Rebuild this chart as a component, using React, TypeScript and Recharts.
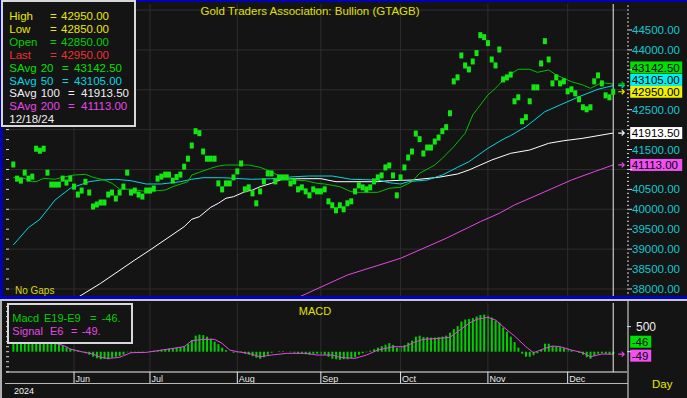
import { Bar, ComposedChart, Line, ReferenceDot, ReferenceLine, Scatter, XAxis, YAxis } from "recharts";

const FONT = "'Liberation Sans', Arial, sans-serif";
const BG = "#141414";
const GRID = "#2e2e2e";

// daily closes, one per trading day (index 0 = first bar on screen)
const closes = [
  41125, 40770, 40720, 40920, 40770, 40820, 41520, 41470, 41520, 40920,
  40620, 40620, 40620, 40770, 40670, 40770, 40570, 40370, 40470, 40690,
  40420, 40070, 40120, 40170, 40170, 40370, 40420, 40270, 40420, 40570,
  40920, 40420, 40470, 40370, 40320, 40470, 40470, 40520, 40770, 40820,
  40870, 40870, 40720, 40810, 40870, 41070, 41270, 41600, 41960, 41910,
  41450, 41270, 41270, 41270, 40650, 40500, 40650, 40650, 40800, 40950,
  41150, 40500, 40550, 40400, 40150, 40450, 40700, 40900, 40900, 40700,
  40800, 40800, 40800, 40650, 40700, 40500, 40550, 40450, 40350, 40500,
  40450, 40450, 40500, 40200, 40100, 39975, 40100, 40000, 40150, 40200,
  40450, 40600, 40550, 40500, 40550, 40700, 40800, 40850, 41050, 41100,
  40850, 40350, 40800, 41050, 41300, 41450, 41900, 41760, 41400, 41550,
  41550, 41700, 41800, 41960, 42060, 42410, 43210, 43310, 43860, 43610,
  43510, 43710, 43920, 44370, 44320, 44170, 43760, 43610, 44010, 43260,
  43310, 43380, 42710, 42810, 42210, 42310, 42710, 43060, 43060, 43660,
  44220, 43760, 43160, 43310, 43160, 43210, 42960, 43010, 42910, 42760,
  42560, 42510, 42560, 43210, 43360, 43160, 42860, 42810, 42950,
];
const lastIndex = closes.length - 1;

const monthStarts = [16, 36, 59, 81, 102, 125, 146];
const monthNames = ["Jun", "Jul", "Aug", "Sep", "Oct", "Nov", "Dec"];

// moving averages read at sample days
const sma20Days = [0, 3, 5, 6, 8, 11, 13, 16, 19, 21, 24, 26, 28, 31, 34, 37, 40, 42, 46, 47, 49, 52, 54, 56, 62, 65, 68, 70, 74, 77, 80, 82, 86, 89, 91, 96, 99, 102, 105, 107, 111, 113, 116, 119, 121, 125, 127, 129, 131, 133, 136, 138, 141, 143, 147, 150, 152, 155, 158];
const sma20Values = [40803, 40778, 40692, 40692, 40778, 40753, 40803, 40860, 40878, 40803, 40735, 40652, 40509, 40502, 40459, 40459, 40484, 40567, 40692, 40860, 40928, 41029, 41086, 41111, 41111, 41054, 40943, 40835, 40735, 40717, 40652, 40635, 40567, 40441, 40426, 40426, 40527, 40552, 40692, 40903, 41111, 41280, 41571, 41907, 42367, 42869, 43037, 43245, 43396, 43514, 43514, 43438, 43496, 43371, 43202, 43120, 43037, 43177, 43142.5];

const sma50Days = [0, 4, 7, 11, 15, 20, 23, 27, 31, 35, 39, 44, 47, 50, 55, 60, 63, 68, 74, 78, 84, 89, 96, 99, 102, 104, 109, 113, 117, 120, 125, 129, 131, 135, 140, 144, 149, 154, 158];
const sma50Values = [39104, 39540, 39749, 40233, 40527, 40692, 40735, 40753, 40717, 40635, 40635, 40692, 40753, 40793, 40793, 40768, 40753, 40768, 40818, 40835, 40835, 40753, 40735, 40667, 40635, 40692, 40735, 40860, 41054, 41194, 41531, 41757, 41850, 42073, 42449, 42618, 42826, 43012, 43105];

const sma100Days = [14, 18, 23, 32, 36, 45, 47, 49, 52, 54, 56, 58, 61, 63, 65, 68, 71, 76, 81, 85, 96, 99, 105, 112, 117, 120, 126, 131, 136, 141, 145, 150, 158];
const sma100Values = [37610, 37849, 38142, 38727, 38978, 39563, 39749, 39814, 40050, 40150, 40276, 40316, 40441, 40484, 40567, 40652, 40760, 40768, 40768, 40692, 40692, 40717, 40735, 40803, 40886, 40986, 41237, 41405, 41488, 41656, 41721, 41782, 41913.5];

const sma200Days = [72, 76, 88, 102, 114, 123, 128, 132, 140, 147, 153, 158];
const sma200Values = [37640, 37831, 38351, 38770, 39272, 39689, 39900, 40108, 40441, 40735, 40943, 41113];

// MACD histogram, one per day
const macdValues = [
  300, 280, 260, 250, 240, 230, 260, 280, 290, 260, 230, 210, 190,
  120, 90, 60, 40, 20, -10,
  -30, -60, -100, -130, -150, -140, -150, -120, -100, -90, -60, -10, -20, -10, -20, -10,
  0, 10, 20, 30, 40, 50, 60, 70, 80, 90, 110, 150,
  230, 320, 340, 330, 300, 260, 200, 150, 80, 30, 0,
  -20, -20, 10, -40, -60, -90, -120, -140, -110, -60, -20, 0, 10, 10, 0, -10, -20, -40, -40, -50,
  -60, -40, -40, -50, -60, -100, -140, -150, -160, -150, -150, -130, -110, -60, -30, -10,
  20, 50, 80, 110, 140, 170, 130, 80, 90, 130, 180, 220, 300, 320, 290, 290, 280, 280, 290, 300, 320,
  380, 450, 510, 600, 640, 650, 670, 700, 730, 740, 720, 680, 620, 580, 480, 400, 300, 190, 80,
  -40, -100, -100, -70, -30, 40, 160, 160, 110, 100, 90, 70, 60, 30, 0, -20, -60, -110, -140, -80, -40, -30, -40, -50, -46,
];

const signalDays = [0, 5, 8, 12, 14, 15, 18, 21, 23, 25, 28, 29, 31, 35, 38, 42, 45, 47, 50, 53, 55, 57, 59, 62, 65, 68, 72, 77, 80, 84, 86, 90, 93, 96, 100, 103, 106, 108, 112, 115, 117, 120, 122, 125, 127, 129, 132, 135, 137, 140, 142, 144, 147, 150, 152, 155, 158];
const signalValues = [170, 170, 190, 153, 100, 53, 0, -46, -113, -133, -113, -80, -20, -13, 20, 66, 100, 219, 246, 246, 166, 33, 0, -33, -100, -66, -33, -33, -66, -66, -113, -133, -66, 33, 100, 100, 199, 246, 266, 286, 398, 564, 644, 684, 631, 498, 312, 100, -20, 66, 113, 100, 33, -20, -100, -46, -49];

const priceGridLines = [38000, 39000, 40000, 41000, 42000, 43000, 44000, 45000];
const priceLabelValues = [38000, 38500, 39000, 39500, 40000, 40500, 41000, 41500, 42000, 42500, 43000, 43500, 44000, 44500];
const priceMinorTicks = Array.from({ length: 73 }, (_, k) => 37900 + k * 100);
const priceLeftTicks = Array.from({ length: 29 }, (_, k) => 38000 + k * 250);
const macdRightTicks = [0, 500];
const macdLeftTicks = Array.from({ length: 14 }, (_, k) => -400 + k * 100);

const X_DOMAIN = [-1.92, 161.63];
const PRICE_DOMAIN = [37824, 45152];
const MACD_DOMAIN = [-404, 970];
const PRICE_PER_PX = 25.1;

const lastClose = closes[lastIndex];
const lastSma20 = sma20Values[sma20Values.length - 1];
const lastSma50 = sma50Values[sma50Values.length - 1];
const lastSma100 = sma100Values[sma100Values.length - 1];
const lastSma200 = sma200Values[sma200Values.length - 1];
const lastMacd = macdValues[lastIndex];
const lastSignal = signalValues[signalValues.length - 1];

// right-axis value tags: value, box colour, arrow colour, vertical shift of the box (px)
const priceTags = [
  { value: lastSma200, bg: "#f050f0", arrow: "#e448e4", dy: 0 },
  { value: lastSma100, bg: "#ffffff", arrow: "#f0f0f0", dy: 0 },
  { value: lastClose, bg: "#f0f000", arrow: "#e8e800", dy: 0 },
  { value: lastSma50, bg: "#00f0f0", arrow: "#00d8e0", dy: -5.6 },
  { value: lastSma20, bg: "#00e000", arrow: "#00c000", dy: -16.6 },
];

const priceRows = closes.map((close, i) => ({ i, close }));
const macdRows = macdValues.map((macd, i) => ({ i, macd }));
const toRows = (days: number[], values: number[]) => days.map((i, k) => ({ i, v: values[k] }));

// axis labels sitting under a value tag are covered by it
const coveredByTag = (v: number) =>
  priceTags.some((t) => Math.abs(v - (t.value - t.dy * PRICE_PER_PX)) < 12 * PRICE_PER_PX);

const Marker = (p: any) => <rect x={p.cx - 2} y={p.cy - 3} width={4} height={6} fill="#14e614" />;

const PriceTick = (p: any) => {
  const v = p.payload.value;
  const major = priceLabelValues.includes(v);
  return (
    <g>
      <line x1={p.x} x2={p.x + (major ? 5 : 2)} y1={p.y} y2={p.y} stroke="#d8d8d8" />
      {major && !coveredByTag(v) && (
        <text x={p.x + 5} y={p.y + 4} fill="#10c8d0" fontSize={11.5} fontFamily={FONT}>
          {v.toFixed(2)}
        </text>
      )}
    </g>
  );
};

const MacdTick = (p: any) => (
  <g>
    <line x1={p.x} x2={p.x + 4} y1={p.y} y2={p.y} stroke="#d8d8d8" />
    {p.payload.value !== 0 && (
      <text x={p.x + 9} y={p.y + 4} fill="#f0f0f0" fontSize={12} fontFamily={FONT}>
        {p.payload.value}
      </text>
    )}
  </g>
);

const LeftTick = (p: any) => <line x1={p.x} x2={p.x + 3} y1={p.y} y2={p.y} stroke="#d8d8d8" />;

const MonthTick = (p: any) => {
  const k = monthStarts.indexOf(p.payload.value);
  return (
    <g>
      <line x1={p.x} x2={p.x} y1={p.y} y2={p.y + 11} stroke="#e8e8e8" />
      <text x={p.x + 1.5} y={p.y + 10} fill="#e8e8e8" fontSize={9} fontFamily={FONT}>
        {monthNames[k]}
      </text>
    </g>
  );
};

function tag(text: string, bg: string, arrow: string | null, dy: number, gap: number, w: number) {
  return (p: any) => {
    const { cx, cy } = p;
    return (
      <g>
        {arrow && (
          <path d={`M${cx + 5},${cy}h6m-2.5,-2.5l2.5,2.5l-2.5,2.5`} stroke={arrow} fill="none" strokeWidth={1.2} />
        )}
        <rect x={cx + gap} y={cy + dy - 6} width={w} height={12} fill={bg} />
        <text x={cx + gap + 1.5} y={cy + dy + 4.2} fill="#000" fontSize={11.5} fontFamily={FONT}>
          {text}
        </text>
      </g>
    );
  };
}

const legendRows = [
  { name: "High", n: "", value: lastClose.toFixed(2), color: "#e8e800", eq: 50, val: 61 },
  { name: "Low", n: "", value: (lastClose - 100).toFixed(2), color: "#e8e800", eq: 50, val: 61 },
  { name: "Open", n: "", value: (lastClose - 100).toFixed(2), color: "#00d000", eq: 50, val: 61 },
  { name: "Last", n: "", value: lastClose.toFixed(2), color: "#f03030", eq: 50, val: 61 },
  { name: "SAvg", n: "20", value: lastSma20.toFixed(2), color: "#00e000", eq: 62, val: 74 },
  { name: "SAvg", n: "50", value: lastSma50.toFixed(2), color: "#00d8e0", eq: 62, val: 74 },
  { name: "SAvg", n: "100", value: lastSma100.toFixed(2), color: "#f0f0f0", eq: 68, val: 81 },
  { name: "SAvg", n: "200", value: lastSma200.toFixed(2), color: "#e448e4", eq: 68, val: 81 },
];

export default function App() {
  return (
    <div style={{ position: "absolute", left: 0, top: 0, width: 687, height: 398, background: BG, overflow: "hidden" }}>
      <div style={{ position: "absolute", left: 0, top: 0 }}>
        <ComposedChart width={687} height={300} margin={{ top: 4, right: 0, bottom: 4, left: 0 }}>
          <XAxis type="number" dataKey="i" domain={X_DOMAIN} allowDataOverflow hide />
          <YAxis yAxisId="l" orientation="left" width={6} type="number" domain={PRICE_DOMAIN} allowDataOverflow ticks={priceLeftTicks} interval={0} tickLine={false} axisLine={false} tickSize={0} tickMargin={0} tick={LeftTick} />
          <YAxis yAxisId="r" orientation="right" width={60} type="number" domain={PRICE_DOMAIN} allowDataOverflow ticks={priceMinorTicks} interval={0} tickLine={false} axisLine={false} tickSize={0} tickMargin={0} tick={PriceTick} />
          {priceGridLines.map((v) => (
            <ReferenceLine key={v} yAxisId="r" y={v} stroke={GRID} />
          ))}
          {monthStarts.map((m) => (
            <ReferenceLine key={m} yAxisId="r" x={m} stroke={GRID} />
          ))}
          <Line yAxisId="r" data={toRows(sma200Days, sma200Values)} dataKey="v" stroke="#e448e4" strokeWidth={1} dot={false} isAnimationActive={false} />
          <Line yAxisId="r" data={toRows(sma100Days, sma100Values)} dataKey="v" stroke="#ffffff" strokeWidth={1} dot={false} isAnimationActive={false} />
          <Line yAxisId="r" data={toRows(sma50Days, sma50Values)} dataKey="v" stroke="#00d8e0" strokeWidth={1} dot={false} isAnimationActive={false} />
          <Line yAxisId="r" data={toRows(sma20Days, sma20Values)} dataKey="v" stroke="#00c000" strokeWidth={1} dot={false} isAnimationActive={false} />
          <Scatter yAxisId="r" data={priceRows} dataKey="close" shape={Marker} isAnimationActive={false} />
          <ReferenceLine yAxisId="r" x={lastIndex} stroke="#f0f0f0" />
          {priceTags.map((t) => (
            <ReferenceDot key={t.bg} yAxisId="r" x={lastIndex} y={t.value} r={0} shape={tag(t.value.toFixed(2), t.bg, t.arrow, t.dy, 17, 52)} />
          ))}
        </ComposedChart>
      </div>
      <div style={{ position: "absolute", left: 0, top: 300 }}>
        <ComposedChart width={687} height={98} data={macdRows} margin={{ top: 3, right: 0, bottom: 0, left: 0 }}>
          <XAxis type="number" dataKey="i" domain={X_DOMAIN} allowDataOverflow ticks={monthStarts} interval={0} height={26} tickLine={false} tickSize={0} tickMargin={0} axisLine={{ stroke: "#f0f0f0" }} tick={MonthTick} />
          <YAxis yAxisId="l" orientation="left" width={6} type="number" domain={MACD_DOMAIN} allowDataOverflow ticks={macdLeftTicks} interval={0} tickLine={false} axisLine={false} tickSize={0} tickMargin={0} tick={LeftTick} />
          <YAxis yAxisId="r" orientation="right" width={60} type="number" domain={MACD_DOMAIN} allowDataOverflow ticks={macdRightTicks} interval={0} tickLine={false} axisLine={false} tickSize={0} tickMargin={0} tick={MacdTick} />
          {monthStarts.map((m) => (
            <ReferenceLine key={m} yAxisId="r" x={m} stroke={GRID} />
          ))}
          <Bar yAxisId="r" dataKey="macd" barSize={2} fill="#00d000" isAnimationActive={false} />
          <Line yAxisId="r" data={toRows(signalDays, signalValues)} dataKey="v" stroke="#e448e4" strokeWidth={1} dot={false} isAnimationActive={false} />
          <ReferenceLine yAxisId="r" x={lastIndex} stroke="#f0f0f0" />
          <ReferenceDot yAxisId="r" x={lastIndex} y={lastSignal} r={0} shape={tag(String(lastSignal), "#f050f0", "#e448e4", 1.5, 17, 21)} />
          <ReferenceDot yAxisId="r" x={lastIndex} y={lastMacd} r={0} shape={tag(String(lastMacd), "#00e000", null, -12.3, 17, 21)} />
        </ComposedChart>
      </div>
      <svg width={687} height={398} style={{ position: "absolute", left: 0, top: 0, pointerEvents: "none" }} fontFamily={FONT}>
        <rect x={0} y={0} width={687} height={2} fill="#0000b4" />
        <rect x={0} y={0} width={3} height={298} fill="#0000b4" />
        <rect x={0} y={296} width={687} height={3} fill="#0000c8" />
        <rect x={0} y={299} width={687} height={2} fill="#c8c8c8" />
        <rect x={0} y={301} width={2} height={97} fill="#b0b0b0" />
        <line x1={628} x2={628} y1={301} y2={398} stroke="#e8e8e8" />
        <line x1={5} x2={628} y1={383.5} y2={383.5} stroke="#b8b8b8" />

        <text x={310} y={15} textAnchor="middle" fill="#e0e000" fontSize={11.5}>
          Gold Traders Association: Bullion (GTAGB)
        </text>
        <text y={294} fill="#d8d800" fontSize={10}>
          <tspan x={15}>No</tspan>
          <tspan x={30.5}>Gaps</tspan>
        </text>

        <rect x={2} y={1} width={133} height={125} fill={BG} stroke="#d8d8d8" strokeWidth={2} />
        {legendRows.map((r, k) => (
          <text key={k} y={20 + k * 12.9} fill={r.color} fontSize={11.5}>
            <tspan x={9.3}>{r.name}</tspan>
            {r.n && <tspan x={40.7}>{r.n}</tspan>}
            <tspan x={r.eq}>=</tspan>
            <tspan x={r.val}>{r.value}</tspan>
          </text>
        ))}
        <text x={9.3} y={123.2} fill="#f0f0f0" fontSize={11.5}>12/18/24</text>

        <text x={315} y={315} textAnchor="middle" fill="#e0e000" fontSize={11}>MACD</text>
        <rect x={8} y={304} width={124} height={39} fill={BG} stroke="#d8d8d8" strokeWidth={2} />
        <text y={321.5} fill="#00d000" fontSize={11}>
          <tspan x={12.3}>Macd</tspan>
          <tspan x={44}>E19-E9</tspan>
          <tspan x={90}>=</tspan>
          <tspan x={101.7}>{lastMacd}.</tspan>
        </text>
        <text y={334.5} fill="#e448e4" fontSize={11}>
          <tspan x={12.3}>Signal</tspan>
          <tspan x={50}>E6</tspan>
          <tspan x={71}>=</tspan>
          <tspan x={81.7}>{lastSignal}.</tspan>
        </text>

        <text x={14} y={394} fill="#f0f0f0" fontSize={9}>2024</text>
        <text x={652} y={388} fill="#e8e800" fontSize={11.5}>Day</text>
      </svg>
    </div>
  );
}
